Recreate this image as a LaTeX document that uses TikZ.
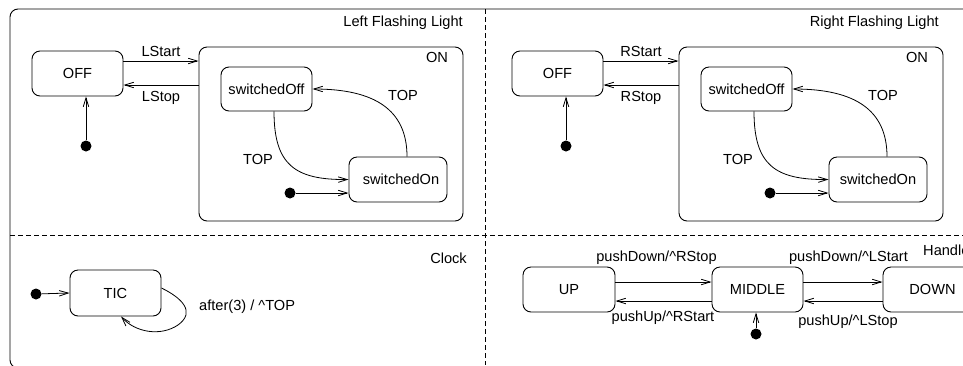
\documentclass[tikz,border=0pt]{standalone}
\usepackage{fontspec}
\setmainfont{Liberation Sans}
\usetikzlibrary{arrows.meta}
\begin{document}
\begin{tikzpicture}[x=1pt,y=-1pt,
  every node/.style={font=\fontsize{14.6}{17}\selectfont},
  state/.style={draw,line width=0.9pt,rounded corners=8pt,minimum height=45pt,inner sep=0pt},
  arr/.style={line width=0.8pt,-{Straight Barb[length=9pt,width=5.5pt]}},
  initdot/.style={circle,fill=black,minimum size=11pt,inner sep=0pt},
  divider/.style={line width=0.8pt,dash pattern=on 4.5pt off 3.5pt},
  lbl/.style={inner sep=0pt}]
\useasboundingbox (0,0) rectangle (963,365);
\clip (0,0) rectangle (963,365);
% outer frame
\draw[line width=0.9pt,rounded corners=8pt] (10,9) rectangle (985,368);
\draw[divider] (485,9) -- (485,365);
\draw[divider] (10,235) -- (963,235);

% ---------- Left Flashing Light ----------
\node[lbl,anchor=east] (tL) at (463,23) {Left Flashing Light};
\node[state,minimum width=91pt] (offL) at (77.5,73.5) {OFF};
\node[state,minimum width=264pt,minimum height=174pt] (onL) at (331,134) {};
\node[lbl] (onLt) at (437,57) {ON};
\node[state,minimum width=91pt,minimum height=44pt] (soffL) at (266.5,89) {switchedOff};
\node[state,minimum width=98pt] (sonL) at (398,179.5) {\hspace*{6pt}\raisebox{-5pt}{switchedOn}};
\node[initdot] (i1L) at (86,146) {};
\node[initdot] (i2L) at (290,193) {};
\draw[arr] (i1L) -- (i1L |- offL.south);
\draw[arr] (i2L) -- (i2L -| sonL.west);
\draw[arr] ([yshift=12.5pt]offL.east) -- ([yshift=12.5pt]offL.east -| onL.west) node[lbl,midway,above=4pt] (lsL) {LStart};
\draw[arr] ([yshift=-11.5pt]offL.east -| onL.west) -- ([yshift=-11.5pt]offL.east) node[lbl,midway,below=6pt] (lpL) {LStop};
\draw[arr] ([xshift=7.5pt]soffL.south) .. controls (274,165) and (295,180) .. (sonL.west);
\draw[arr] ([xshift=9pt]sonL.north) .. controls (407,110) and (375,89) .. (soffL.east);
\node[lbl] (t1L) at (258,159) {TOP};
\node[lbl] (t2L) at (403,95) {TOP};

% ---------- Right Flashing Light ----------
\node[lbl,anchor=east] (tR) at (939,23) {Right Flashing Light};
\node[state,minimum width=91pt] (offR) at (557.5,73.5) {OFF};
\node[state,minimum width=264pt,minimum height=174pt] (onR) at (811,134) {};
\node[lbl] (onRt) at (917,57) {ON};
\node[state,minimum width=91pt,minimum height=44pt] (soffR) at (746.5,89) {switchedOff};
\node[state,minimum width=98pt] (sonR) at (878,179.5) {\raisebox{-3pt}{switchedOn}};
\node[initdot] (i1R) at (566,146) {};
\node[initdot] (i2R) at (770,193) {};
\draw[arr] (i1R) -- (i1R |- offR.south);
\draw[arr] (i2R) -- (i2R -| sonR.west);
\draw[arr] ([yshift=12.5pt]offR.east) -- ([yshift=12.5pt]offR.east -| onR.west) node[lbl,midway,above=4pt] (lsR) {RStart};
\draw[arr] ([yshift=-11.5pt]offR.east -| onR.west) -- ([yshift=-11.5pt]offR.east) node[lbl,midway,below=6pt] (lpR) {RStop};
\draw[arr] ([xshift=7.5pt]soffR.south) .. controls (754,165) and (775,180) .. (sonR.west);
\draw[arr] ([xshift=9pt]sonR.north) .. controls (887,110) and (855,89) .. (soffR.east);
\node[lbl] (t1R) at (738,159) {TOP};
\node[lbl] (t2R) at (883,95) {TOP};

% ---------- Clock ----------
\node[lbl,anchor=east] (tC) at (467,258) {Clock};
\node[initdot] (iC) at (36,294) {};
\node[state,minimum width=91pt,minimum height=46pt] (tic) at (115.5,293) {TIC};
\draw[arr] (iC) -- (tic.west);
\draw[arr] ([yshift=5pt]tic.east) .. controls (182,298) and (196,312) .. (178,325)
   .. controls (160,337) and (135,332) .. ([xshift=5.5pt]tic.south);
\node[lbl,anchor=west] (tcl) at (199,307) {after(3) / \textasciicircum TOP};

% ---------- Handle ----------
\node[lbl,anchor=west] (tH) at (923,250) {Handle};
\node[state,minimum width=92pt] (up) at (569,289.5) {UP};
\node[state,minimum width=91pt] (mid) at (757.5,289.5) {MIDDLE};
\node[state,minimum width=91pt] (down) at (928.5,289.5) {\hspace*{8pt}DOWN};
\node[initdot] (iH) at (756,334) {};
\draw[arr] (iH) -- (iH |- mid.south);
\draw[arr] ([yshift=7.5pt]up.east) -- ([yshift=7.5pt]up.east -| mid.west);
\draw[arr] ([yshift=-11.5pt]up.east -| mid.west) -- ([yshift=-11.5pt]up.east);
\draw[arr] ([yshift=7.5pt]mid.east) -- ([yshift=7.5pt]mid.east -| down.west);
\draw[arr] ([yshift=-11.5pt]mid.east -| down.west) -- ([yshift=-11.5pt]mid.east);
\node[lbl] (l1) at (656.5,258) {pushDown/\textasciicircum RStop};
\node[lbl] (l2) at (663,318) {pushUp/\textasciicircum RStart};
\node[lbl] (l3) at (848.5,258) {pushDown/\textasciicircum LStart};
\node[lbl] (l4) at (848,322) {pushUp/\textasciicircum LStop};
\end{tikzpicture}
\end{document}
